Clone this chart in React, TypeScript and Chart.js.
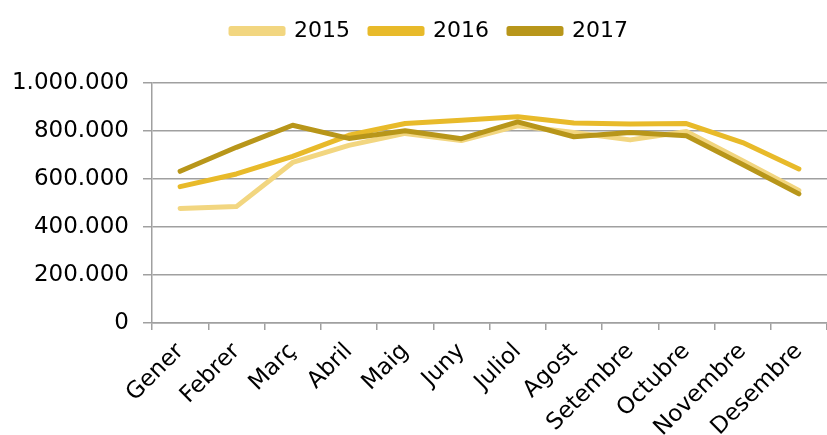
import React, { useEffect, useRef } from "react";
import { Chart, registerables } from "chart.js";

Chart.register(...registerables);

const months = ["Gener", "Febrer", "Març", "Abril", "Maig", "Juny", "Juliol", "Agost", "Setembre", "Octubre", "Novembre", "Desembre"];
const series2015 = [477000, 485000, 669000, 740000, 790000, 760000, 822000, 794000, 763000, 798000, 676000, 552000];
const series2016 = [568000, 621000, 694000, 782000, 831000, 845000, 859000, 833000, 829000, 831000, 752000, 642000];
const series2017 = [632000, 732000, 824000, 769000, 801000, 768000, 838000, 776000, 794000, 780000, 660000, 538000];
const yTicks = [0, 200000, 400000, 600000, 800000, 1000000];

const FONT = "'DejaVu Sans', sans-serif";
const GRID = "#a0a0a0";
const LEGEND_EXTRA = 31;
const LEGEND_SHIFT = 16;

function fmt(v: number): string {
  return String(Math.round(v)).replace(/\B(?=(\d{3})+(?!\d))/g, ".");
}

const legendSpacer = {
  id: "legendSpacer",
  beforeInit(chart: any) {
    const lg = chart.legend;
    const origFit = lg.fit;
    lg.fit = function () {
      origFit.call(this);
      this.height += LEGEND_EXTRA;
    };
    const origDraw = lg.draw;
    lg.draw = function (...args: any[]) {
      const ctx = chart.ctx;
      ctx.save();
      ctx.translate(LEGEND_SHIFT, 0);
      origDraw.apply(this, args);
      ctx.restore();
    };
  },
};

export default function App() {
  const ref = useRef<HTMLCanvasElement | null>(null);
  useEffect(() => {
    if (!ref.current) return;
    const mk = (label: string, data: number[], color: string, order: number) => ({
      label,
      data,
      borderColor: color,
      backgroundColor: color,
      borderWidth: 5,
      pointRadius: 0,
      pointHoverRadius: 0,
      borderCapStyle: "round" as const,
      borderJoinStyle: "round" as const,
      tension: 0,
      order,
    });
    const chart = new Chart(ref.current, {
      type: "line",
      data: {
        labels: months,
        datasets: [
          mk("2015", series2015, "#F2D680", 3),
          mk("2016", series2016, "#E8BA2A", 2),
          mk("2017", series2017, "#B8961A", 1),
        ],
      },
      plugins: [legendSpacer],
      options: {
        animation: false,
        responsive: false,
        maintainAspectRatio: false,
        layout: { padding: { left: 0, right: 0, top: 0, bottom: 0 } },
        plugins: {
          tooltip: { enabled: false },
          legend: {
            position: "top",
            align: "center",
            labels: {
              sort: (a: any, b: any) => a.datasetIndex - b.datasetIndex,
              boxWidth: 52,
              boxHeight: 5,
              padding: 20,
              color: "#000",
              font: { family: FONT, size: 22 },
            },
          },
        },
        scales: {
          x: {
            type: "category",
            offset: true,
            afterFit: (s: any) => { s.height = 112; },
            grid: { display: true, drawOnChartArea: false, drawTicks: true, tickLength: 7, color: GRID, lineWidth: 1.5, offset: true },
            border: { display: true, color: GRID, width: 1.5 },
            ticks: { color: "#000", font: { family: FONT, size: 23 }, minRotation: 45, maxRotation: 45, autoSkip: false, padding: 8 },
          },
          y: {
            min: 0,
            max: 1000000,
            afterFit: (s: any) => { s.width = 152; },
            afterBuildTicks: (s: any) => { s.ticks = yTicks.map((v) => ({ value: v })); },
            grid: { color: GRID, lineWidth: 1.5, drawTicks: true, tickLength: 9 },
            border: { display: true, color: GRID, width: 1.5 },
            ticks: { color: "#000", font: { family: FONT, size: 23 }, padding: 14, callback: (v: any) => fmt(Number(v)) },
          },
        },
      },
    });
    return () => chart.destroy();
  }, []);
  return (
    <div style={{ position: "absolute", left: 0, top: 0, width: 827, height: 435, background: "#fff" }}>
      <canvas ref={ref} width={827} height={435} style={{ width: 827, height: 435, display: "block" }} />
    </div>
  );
}
